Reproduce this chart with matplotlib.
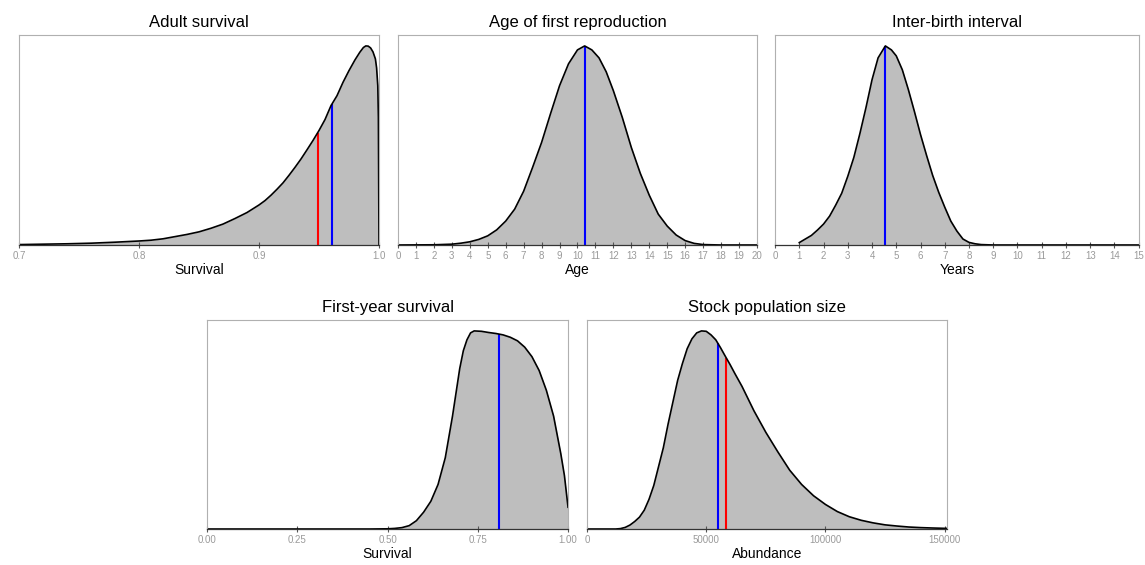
import numpy as np
import matplotlib
matplotlib.use("Agg")
import matplotlib.pyplot as plt

plt.rcParams['font.family'] = ['Liberation Sans', 'DejaVu Sans']

# densities (height relative to the peak)
adult_x = [0.70, 0.72, 0.74, 0.76, 0.78, 0.80, 0.81, 0.82, 0.83, 0.84, 0.85, 0.86, 0.87,
           0.88, 0.89, 0.90, 0.905, 0.91, 0.915, 0.92, 0.925, 0.93, 0.935, 0.94, 0.945,
           0.95, 0.955, 0.96, 0.965, 0.97, 0.975, 0.98, 0.984, 0.987, 0.989, 0.991,
           0.993, 0.995, 0.997, 0.998, 0.999, 0.9995, 1.0]
adult_y = [0.002, 0.004, 0.006, 0.009, 0.014, 0.020, 0.024, 0.031, 0.042, 0.053, 0.066,
           0.084, 0.105, 0.133, 0.163, 0.201, 0.223, 0.250, 0.28, 0.312, 0.35, 0.39,
           0.432, 0.478, 0.525, 0.575, 0.63, 0.70, 0.75, 0.817, 0.876, 0.93, 0.968,
           0.992, 1.0, 0.999, 0.99, 0.97, 0.935, 0.89, 0.80, 0.64, 0.0]

age_x = [0, 1, 2, 3, 3.5, 4, 4.5, 5, 5.5, 6, 6.5, 7, 7.5, 8, 8.5, 9, 9.5, 10, 10.4, 10.8,
         11.2, 11.6, 12, 12.5, 13, 13.5, 14, 14.5, 15, 15.5, 16, 16.5, 17, 18, 20]
age_y = [0.0, 0.0005, 0.001, 0.004, 0.009, 0.016, 0.028, 0.046, 0.076, 0.12, 0.18, 0.27,
         0.39, 0.515, 0.66, 0.80, 0.91, 0.98, 1.0, 0.98, 0.94, 0.87, 0.775, 0.64, 0.49,
         0.36, 0.25, 0.155, 0.095, 0.05, 0.022, 0.008, 0.002, 0.0, 0.0]

ibi_x = [1.0, 1.25, 1.5, 1.75, 2.0, 2.25, 2.5, 2.75, 3.0, 3.25, 3.5, 3.75, 4.0, 4.25,
         4.55, 4.8, 5.0, 5.25, 5.5, 5.75, 6.0, 6.25, 6.5, 6.75, 7.0, 7.25, 7.5, 7.75,
         8.0, 8.25, 8.5, 9.0, 15.0]
ibi_y = [0.012, 0.03, 0.048, 0.075, 0.105, 0.145, 0.2, 0.26, 0.345, 0.44, 0.56, 0.69,
         0.83, 0.94, 1.0, 0.98, 0.95, 0.88, 0.78, 0.67, 0.555, 0.45, 0.35, 0.265, 0.19,
         0.12, 0.07, 0.03, 0.013, 0.006, 0.002, 0.0, 0.0]

fys_x = [0.0, 0.45, 0.50, 0.52, 0.54, 0.56, 0.58, 0.60, 0.62, 0.64, 0.66, 0.68, 0.70,
         0.71, 0.72, 0.73, 0.74, 0.76, 0.78, 0.80, 0.82, 0.84, 0.86, 0.88, 0.90, 0.92,
         0.94, 0.96, 0.98, 0.99, 1.0]
fys_y = [0.0, 0.0, 0.001, 0.003, 0.007, 0.017, 0.042, 0.085, 0.14, 0.225, 0.36, 0.57,
         0.81, 0.90, 0.955, 0.99, 1.0, 0.998, 0.992, 0.987, 0.98, 0.968, 0.95, 0.918,
         0.87, 0.80, 0.70, 0.57, 0.38, 0.27, 0.11]

pop_x = [0, 12000, 14000, 16000, 18000, 20000, 22000, 24000, 26000, 28000, 30000, 32000,
         34000, 36000, 38000, 40000, 42000, 44000, 46000, 48000, 50000, 52000, 54000,
         56000, 58000, 60000, 62000, 65000, 70000, 75000, 80000, 85000, 90000, 95000,
         100000, 105000, 110000, 115000, 120000, 125000, 130000, 135000, 140000,
         145000, 151000]
pop_y = [0.0, 0.0, 0.002, 0.008, 0.02, 0.038, 0.06, 0.095, 0.15, 0.22, 0.315, 0.41,
         0.53, 0.64, 0.75, 0.835, 0.91, 0.96, 0.99, 1.0, 0.998, 0.98, 0.955, 0.915,
         0.872, 0.83, 0.785, 0.72, 0.597, 0.488, 0.39, 0.297, 0.225, 0.168, 0.124,
         0.088, 0.062, 0.044, 0.031, 0.021, 0.015, 0.01, 0.007, 0.005, 0.003]

# reference values marked with vertical lines
adult_red, adult_blue = 0.949, 0.961
age_blue = 10.4
ibi_blue = 4.55
fys_blue = 0.808
pop_red, pop_blue = 58300, 54800

fig = plt.figure(figsize=(11.45, 5.65), dpi=100)

panels = [
    ([0.0166, 0.5664, 0.3144, 0.3717], "Adult survival", "Survival", adult_x, adult_y,
     (0.7, 1.0), [0.7, 0.8, 0.9, 1.0], ["0.7", "0.8", "0.9", "1.0"], adult_blue, adult_red),
    ([0.3476, 0.5664, 0.3135, 0.3717], "Age of first reproduction", "Age", age_x, age_y,
     (0, 20), list(range(21)), [str(i) for i in range(21)], age_blue, None),
    ([0.6769, 0.5664, 0.3176, 0.3717], "Inter-birth interval", "Years", ibi_x, ibi_y,
     (0, 15), list(range(16)), [str(i) for i in range(16)], ibi_blue, None),
    ([0.1808, 0.0637, 0.3153, 0.3699], "First-year survival", "Survival", fys_x, fys_y,
     (0, 1.0), [0, 0.25, 0.5, 0.75, 1.0], ["0.00", "0.25", "0.50", "0.75", "1.00"], fys_blue, None),
    ([0.5127, 0.0637, 0.3144, 0.3699], "Stock population size", "Abundance", pop_x, pop_y,
     (0, 151000), [0, 50000, 100000, 150000], ["0", "50000", "100000", "150000"], pop_blue, pop_red),
]

for rect, title, xlab, xs, ys, xlim, ticks, labels, blue, red in panels:
    ax = fig.add_axes(rect)
    ax.fill_between(xs, 0, ys, color="#bebebe", lw=0)
    if red is not None:
        ax.vlines(red, 0, np.interp(red, xs, ys), color="red", lw=1.5)
    ax.vlines(blue, 0, np.interp(blue, xs, ys), color="blue", lw=1.5)
    ax.plot(xs, ys, color="black", lw=1.2)
    ax.set_xlim(*xlim)
    ax.set_ylim(0, 1.055)
    ax.set_yticks([])
    ax.set_xticks(ticks)
    ax.set_xticklabels(labels)
    ax.tick_params(axis="x", direction="inout", length=4, width=0.8, colors="#555555",
                   labelsize=7, labelcolor="#9a9a9a", pad=2)
    for s in ["top", "left", "right"]:
        ax.spines[s].set_color("#b0b0b0")
        ax.spines[s].set_linewidth(0.8)
    ax.spines["bottom"].set_color("#333333")
    ax.spines["bottom"].set_linewidth(0.9)
    ax.set_title(title, fontsize=12, pad=6)
    ax.set_xlabel(xlab, fontsize=10, labelpad=2)

fig.savefig("out.png", dpi=100)
